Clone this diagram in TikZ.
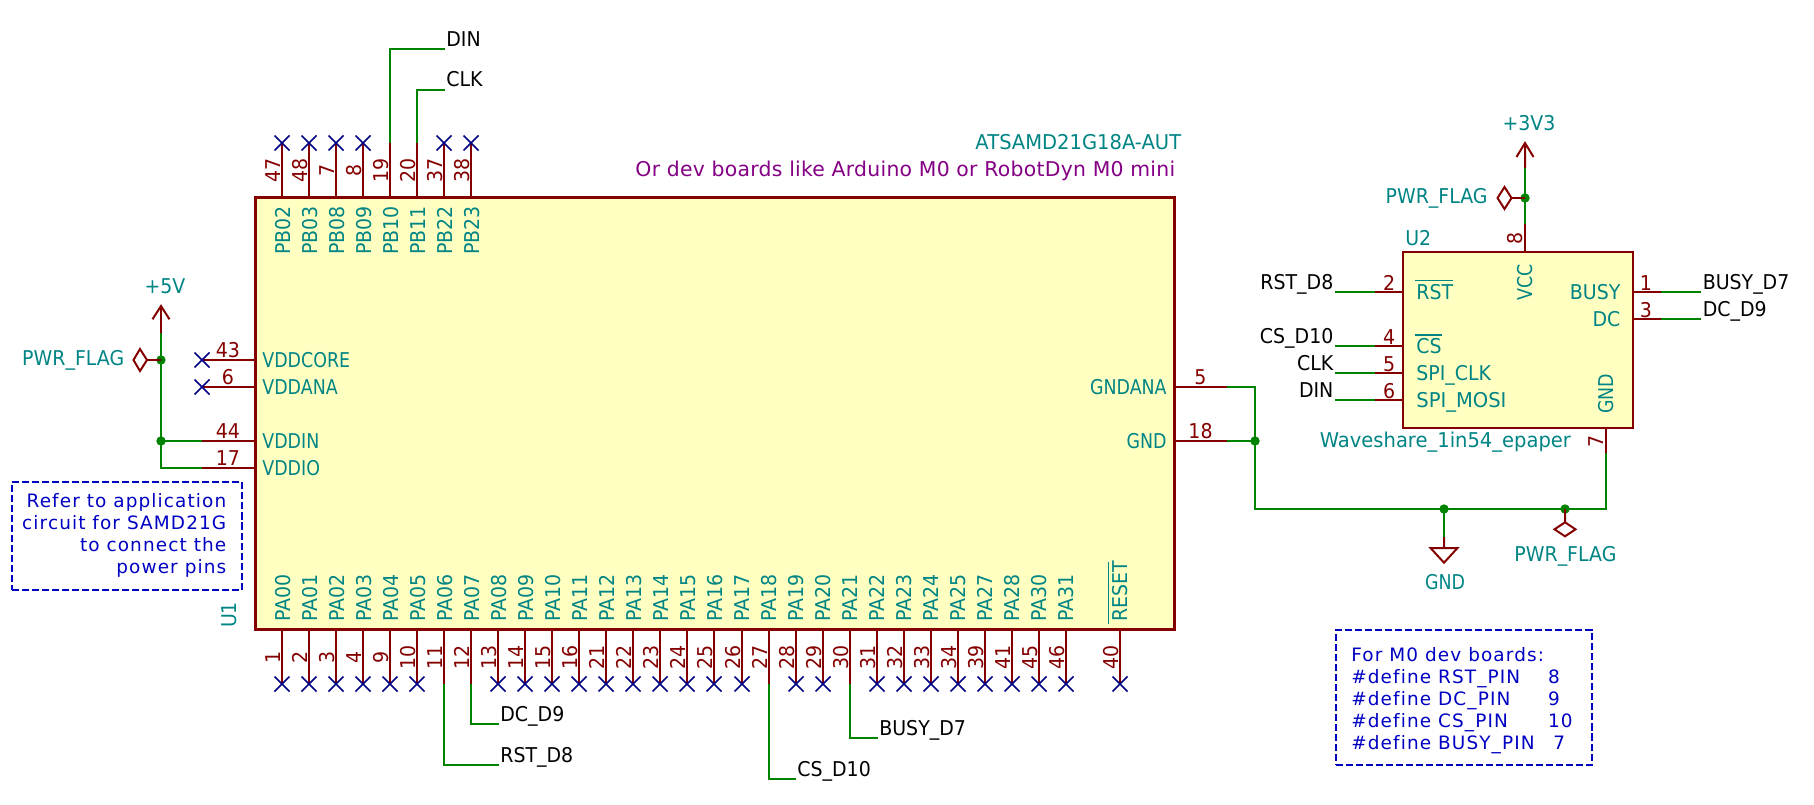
\documentclass[tikz,border=0pt]{standalone}
\usepackage{graphicx}
\usepackage{fontspec}
\setmainfont[Ligatures=NoCommon,FakeStretch=0.93]{DejaVu Sans}
\newfontfamily\notefont[Ligatures=NoCommon,LetterSpace=6]{DejaVu Sans}
\newfontfamily\subfont[Ligatures=NoCommon,LetterSpace=1.3]{DejaVu Sans}
\newcommand{\nw}[1]{\scalebox{.92}[1]{#1}}
\newcommand{\wider}[1]{\scalebox{1.03}[1]{#1}}
\definecolor{brn}{HTML}{840000}
\definecolor{teal2}{HTML}{008484}
\definecolor{grn}{HTML}{008400}
\definecolor{nav}{HTML}{000084}
\definecolor{notes}{HTML}{0000C2}
\definecolor{purp}{HTML}{840084}
\definecolor{chip}{HTML}{FFFFC2}
\tikzset{
	chipbox/.style={draw=brn, fill=chip, anchor=north west, inner sep=0pt, outer sep=0pt},
	pinline/.style={draw=brn, line width=1.134pt},
	wire/.style={draw=grn, line width=1.134pt},
	nc/.style={draw=nav, line width=0.9pt},
	note/.style={draw=notes, dashed, dash pattern=on 4pt off 1.7pt, line width=1.134pt, anchor=north west, inner sep=0pt, outer sep=0pt},
	txt/.style={inner sep=0pt, font=\fontsize{11.6}{14}\selectfont},
	pinnum/.style={txt, text=brn},
	pinname/.style={txt, text=teal2},
	netlabel/.style={txt, text=black},
	notetxt/.style={inner sep=0pt, text=notes, font=\fontsize{10.5}{12.5}\notefont},
	overbar/.style={draw=teal2, line width=0.9pt}
}
\begin{document}
\begin{tikzpicture}[x=0.02cm, y=-0.02cm]
	\useasboundingbox (0,0) rectangle (1814,804);

	%%%%% U1 %%%%%
	\node[chipbox, line width=1.7pt, minimum width=18.38cm, minimum height=8.64cm] (U1) at (255.5,197.5) {};

	\foreach \num/\lbl [count=\i from 0] in {47/PB02,48/PB03,7/PB08,8/PB09,19/PB10,20/PB11,37/PB22,38/PB23} {
		\coordinate (s\num) at ({round(282+27.03*\i)},197);
		\coordinate (e\num) at ({round(282+27.03*\i)},143);
		\draw[pinline] (s\num) -- (e\num);
		\node[pinnum, rotate=90, anchor=base] (n\num) at ({280+27.03*\i},170.5) {\num};
		\node[pinname, rotate=90, anchor=base east] (l\num) at ({290+27.03*\i},205.7) {\lbl};
	}
	\foreach \num/\lbl [count=\i from 0] in {1/PA00,2/PA01,3/PA02,4/PA03,9/PA04,10/PA05,11/PA06,12/PA07,13/PA08,14/PA09,15/PA10,16/PA11,21/PA12,22/PA13,23/PA14,24/PA15,25/PA16,26/PA17,27/PA18,28/PA19,29/PA20,30/PA21,31/PA22,32/PA23,33/PA24,34/PA25,39/PA27,41/PA28,45/PA30,46/PA31} {
		\coordinate (s\num) at ({round(282+27.03*\i)},629);
		\coordinate (e\num) at ({round(282+27.03*\i)},684);
		\draw[pinline] (s\num) -- (e\num);
		\node[pinnum, rotate=90, anchor=base] (n\num) at ({280.5+27.03*\i},657) {\num};
		\node[pinname, rotate=90, anchor=base west] (l\num) at ({290+27.03*\i},622.3) {\lbl};
	}
	\coordinate (s40) at (1120,629);
	\coordinate (e40) at (1120,684);
	\draw[pinline] (s40) -- (e40);
	\node[pinnum, rotate=90, anchor=base] (n40) at (1118,657) {40};
	\node[pinname, rotate=90, anchor=base west] (l40) at (1127.3,622.3) {RESET};
	\draw[overbar] (1108.3,562) -- (1108.3,624);

	\foreach \num/\lbl/\yy in {43/VDDCORE/360,6/VDDANA/387,44/VDDIN/441,17/VDDIO/468} {
		\coordinate (s\num) at (255,\yy);
		\coordinate (e\num) at (202,\yy);
		\draw[pinline] (s\num) -- (e\num);
		\node[pinnum, anchor=base] (n\num) at (228,{\yy-3}) {\num};
		\node[pinname, anchor=base west] (l\num) at (262,{\yy+7}) {\nw{\lbl}};
	}
	\foreach \num/\lbl/\yy in {5/GNDANA/387,18/GND/441} {
		\coordinate (s\num) at (1175,\yy);
		\coordinate (e\num) at (1227,\yy);
		\draw[pinline] (s\num) -- (e\num);
		\node[pinnum, anchor=base] (n\num) at (1200.5,{\yy-3}) {\num};
		\node[pinname, anchor=base east] (l\num) at (1167,{\yy+7}) {\nw{\lbl}};
	}
	\foreach \num in {47,48,7,8,37,38,1,2,3,4,9,10,13,14,15,16,21,22,23,24,25,26,28,29,31,32,33,34,39,41,45,46,40,43,6}
		\draw[nc] (e\num) +(-7.5,-7.5) -- +(7.5,7.5) +(-7.5,7.5) -- +(7.5,-7.5);

	\node[pinname, anchor=base west, rotate=90] (U1ref) at (236.5,628.3) {U1};
	\node[pinname, anchor=base east] (U1val) at (1181.5,150) {\wider{ATSAMD21G18A-AUT}};
	\node[inner sep=0pt, text=purp, font=\fontsize{11.6}{14}\subfont, anchor=base east] (U1sub) at (1175.5,176.7) {Or dev boards like Arduino M0 or RobotDyn M0 mini};

	%%%%% U2 %%%%%
	\node[chipbox, line width=1.134pt, minimum width=4.6cm, minimum height=3.52cm] (U2) at (1403,252) {};
	\foreach \num/\yy in {2/292,4/346,5/373,6/400} {
		\coordinate (a\num) at (1403,\yy);
		\coordinate (b\num) at (1375,\yy);
		\draw[pinline] (a\num) -- (b\num);
		\node[pinnum, anchor=base east] (m\num) at (1395.5,{\yy-2}) {\num};
	}
	\foreach \num/\yy in {1/292,3/319} {
		\coordinate (a\num) at (1633,\yy);
		\coordinate (b\num) at (1661,\yy);
		\draw[pinline] (a\num) -- (b\num);
		\node[pinnum, anchor=base] (m\num) at (1646,{\yy-2}) {\num};
	}
	\coordinate (a8) at (1525,252);
	\coordinate (b8) at (1525,224);
	\draw[pinline] (a8) -- (b8);
	\node[pinnum, rotate=90, anchor=base] (m8) at (1522,238) {8};
	\coordinate (a7) at (1606,428);
	\coordinate (b7) at (1606,453);
	\draw[pinline] (a7) -- (b7);
	\node[pinnum, rotate=90, anchor=base] (m7) at (1603,441) {7};

	\node[pinname, anchor=base west] (RST) at (1416,299.6) {RST};
	\node[pinname, anchor=base west] (CS) at (1416,353) {CS};
	\node[pinname, anchor=base west] (SPICLK) at (1416,380) {SPI\_CLK};
	\node[pinname, anchor=base west] (SPIMOSI) at (1416,407) {\wider{SPI\_MOSI}};
	\node[pinname, anchor=base east] (BUSY) at (1620.8,299.3) {BUSY};
	\node[pinname, anchor=base east] (DC) at (1620.8,326) {DC};
	\node[pinname, rotate=90, anchor=base east] (VCC) at (1532,264) {\nw{VCC}};
	\node[pinname, rotate=90, anchor=base west] (GNDb) at (1613,414) {\nw{GND}};
	\draw[overbar] (1414.5,280.7) -- (1453,280.7);
	\draw[overbar] (1414.5,335) -- (1442,335);
	\node[pinname, anchor=base west] (U2ref) at (1405,245) {U2};
	\node[pinname, anchor=base west] (U2val) at (1319.5,447.7) {\wider{Waveshare\_1in54\_epaper}};

	%%%%% WIRES %%%%%
	\coordinate (wDIN) at (445,49);
	\coordinate (wCLK) at (445,90);
	\coordinate (wRST) at (499,765);
	\coordinate (wDC) at (499,724);
	\coordinate (wCS) at (796,779);
	\coordinate (wBUSY) at (878,738);
	\draw[wire] (e19) |- (wDIN);
	\draw[wire] (e20) |- (wCLK);
	\draw[wire] (e11) |- (wRST);
	\draw[wire] (e12) |- (wDC);
	\draw[wire] (e27) |- (wCS);
	\draw[wire] (e30) |- (wBUSY);
	\node[netlabel, anchor=base west] (lDIN) at (446,46.7) {DIN};
	\node[netlabel, anchor=base west] (lCLK) at (446,87) {CLK};
	\node[netlabel, anchor=base west] (lRST) at (500,762.7) {RST\_D8};
	\node[netlabel, anchor=base west] (lDC) at (500,721.7) {DC\_D9};
	\node[netlabel, anchor=base west] (lCS) at (797,776) {CS\_D10};
	\node[netlabel, anchor=base west] (lBUSY) at (879,735) {BUSY\_D7};

	\foreach \num/\lbl/\yy in {2/RST\_D8/289.3,4/CS\_D10/343,5/CLK/370,6/DIN/397.3} {
		\draw[wire] (b\num) -- ++(-40,0);
		\node[netlabel, anchor=base east] (r\num) at (1333.7,\yy) {\lbl};
	}
	\foreach \num/\lbl/\yy in {1/BUSY\_D7/289,3/DC\_D9/316} {
		\draw[wire] (b\num) -- ++(40,0);
		\node[netlabel, anchor=base west] (r\num) at (1702.4,\yy) {\lbl};
	}

	%%%%% +5V %%%%%
	\coordinate (j5a) at (161,360);
	\coordinate (j5b) at (161,441);
	\coordinate (p5v) at (161,333);
	\draw[wire] (e17) -| (p5v);
	\draw[wire] (e44) -- (j5b);
	\fill[grn] (j5a) circle (4.7);
	\fill[grn] (j5b) circle (4.7);
	\draw[pinline] (p5v) -- ++(0,-27) ++(-8.5,13.3) -- ++(8.5,-13.3) -- ++(8.5,13.3);
	\node[pinname, anchor=base] (v5) at (165,293) {+5V};
	\draw[pinline] (j5a) -- ++(-14,0) -- ++(-7,-11) -- ++(-6.5,11) -- ++(6.5,11) -- ++(7,-11);
	\node[pinname, anchor=base east] (f5) at (124.6,365.7) {PWR\_FLAG};

	%%%%% +3V3 %%%%%
	\coordinate (j3) at (1525,198);
	\coordinate (p3v) at (1525,168);
	\draw[wire] (b8) -- (p3v);
	\fill[grn] (j3) circle (4.7);
	\draw[pinline] (p3v) -- ++(0,-25) ++(-8.5,14) -- ++(8.5,-14) -- ++(8.5,14);
	\node[pinname, anchor=base] (v3) at (1529,131) {+3V3};
	\draw[pinline] (j3) -- ++(-13.5,0) -- ++(-7,-11) -- ++(-7,11) -- ++(7,11) -- ++(7,-11);
	\node[pinname, anchor=base east] (f3) at (1488,203.3) {PWR\_FLAG};

	%%%%% GND %%%%%
	\coordinate (jg1) at (1255,441);
	\coordinate (jg2) at (1444,509);
	\coordinate (jg3) at (1565,509);
	\coordinate (jg4) at (1255,509);
	\coordinate (pgnd) at (1444,537);
	\draw[wire] (e5) -| (jg4) -- (jg2) -- (jg3) -| (b7);
	\draw[wire] (e18) -- (jg1);
	\draw[wire] (jg2) -- (pgnd);
	\fill[grn] (jg1) circle (4.7);
	\fill[grn] (jg2) circle (4.7);
	\fill[grn] (jg3) circle (4.7);
	\draw[pinline] (pgnd) -- ++(0,11) -- ++(-13.5,0) -- ++(13.5,14.7) -- ++(13.5,-14.7) -- ++(-13.5,0);
	\node[pinname, anchor=base] (gnd) at (1445,589) {\nw{GND}};
	\draw[pinline] (jg3) -- ++(0,13.3) -- ++(-10.5,7) -- ++(10.5,7) -- ++(10.5,-7) -- ++(-10.5,-7);
	\node[pinname, anchor=base] (fg) at (1565.4,561.7) {PWR\_FLAG};

	%%%%% NOTES %%%%%
	\node[note, minimum width=4.6cm, minimum height=2.16cm] (note1) at (12,482) {};
	\node[notetxt, anchor=base east] (t1) at (226.6,507.3) {Refer to application};
	\node[notetxt, anchor=base east] (t2) at (226.6,529.3) {circuit for SAMD21G};
	\node[notetxt, anchor=base east] (t3) at (226.6,551.7) {to connect the};
	\node[notetxt, anchor=base east] (t4) at (226.6,573.3) {power pins};

	\node[note, minimum width=5.12cm, minimum height=2.7cm] (note2) at (1336,630) {};
	\node[notetxt, anchor=base west] (d0) at (1351,661.7) {For M0 dev boards:};
	\node[notetxt, anchor=base west] (d1) at (1351,683.7) {\makebox[112pt][l]{\#define RST\_PIN}8};
	\node[notetxt, anchor=base west] (d2) at (1351,705.7) {\makebox[112pt][l]{\#define DC\_PIN}9};
	\node[notetxt, anchor=base west] (d3) at (1351,727.3) {\makebox[112pt][l]{\#define CS\_PIN}10};
	\node[notetxt, anchor=base west] (d4) at (1351,749) {\makebox[115pt][l]{\#define BUSY\_PIN}7};
\end{tikzpicture}
\end{document}
